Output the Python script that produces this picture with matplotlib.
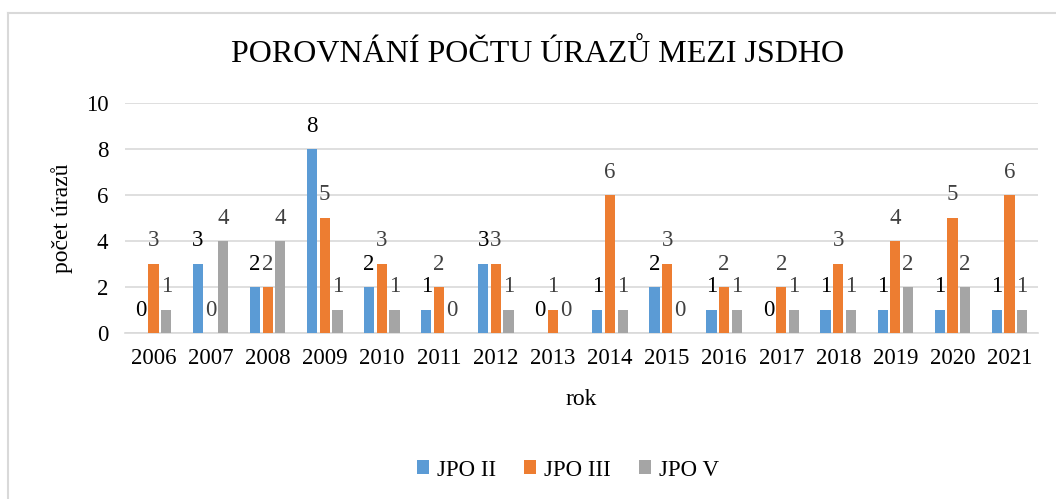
import matplotlib
matplotlib.use("Agg")
import matplotlib.pyplot as plt
from matplotlib.lines import Line2D
import numpy as np

years = ["2006", "2007", "2008", "2009", "2010", "2011", "2012", "2013",
         "2014", "2015", "2016", "2017", "2018", "2019", "2020", "2021"]
jpo_ii = [0, 3, 2, 8, 2, 1, 3, 0, 1, 2, 1, 0, 1, 1, 1, 1]
jpo_iii = [3, 0, 2, 5, 3, 2, 3, 1, 6, 3, 2, 2, 3, 4, 5, 6]
jpo_v = [1, 4, 4, 1, 1, 0, 1, 0, 1, 0, 1, 1, 1, 2, 2, 1]
series_names = ["JPO II", "JPO III", "JPO V"]
colors = ["#5B9BD5", "#ED7D31", "#A5A5A5"]
label_colors = ["#000000", "#404040", "#404040"]

plt.rcParams['font.family'] = ['Liberation Serif', 'DejaVu Serif']

W, H = 1056, 499
fig = plt.figure(figsize=(W / 100, H / 100), dpi=100)
ax = fig.add_axes([125 / W, 1 - 333 / H, (1038 - 125) / W, (333 - 103) / H])

x = np.arange(len(years))
step = 0.222
width = 0.18
for i, (vals, name) in enumerate(zip([jpo_ii, jpo_iii, jpo_v], series_names)):
    pos = x + (i - 1) * step
    ax.bar(pos, vals, width=width, color=colors[i], label=name, zorder=3)
    for p, v in zip(pos, vals):
        ax.annotate(str(v), (p, v), xytext=(0, 9), textcoords="offset points",
                    ha="center", va="bottom", fontsize=16.5, color=label_colors[i])

ax.set_xlim(-0.5, len(years) - 0.5)
ax.set_ylim(0, 10)
ax.set_yticks(range(0, 11, 2))
ax.set_xticks(x)
ax.set_xticklabels(years)
ax.tick_params(axis='both', length=0, labelsize=16.5, colors="#000000")
ax.tick_params(axis='y', pad=12)
ax.tick_params(axis='x', pad=11)
ax.grid(axis='y', color="#D9D9D9", linewidth=1.2, zorder=0)
for s in ["top", "right", "left"]:
    ax.spines[s].set_visible(False)
ax.spines["bottom"].set_color("#D9D9D9")
ax.spines["bottom"].set_linewidth(1.2)

ax.set_ylabel("počet úrazů", fontsize=17, labelpad=9)
ax.set_xlabel("rok", fontsize=17, labelpad=14)

fig.text(538 / W, 1 - 54 / H, "POROVNÁNÍ POČTU ÚRAZŮ MEZI JSDHO",
         ha="center", va="center", fontsize=23)

handles = [plt.Rectangle((0, 0), 1, 1, facecolor=c, edgecolor="none") for c in colors]
fig.legend(handles, series_names, loc="center", bbox_to_anchor=(568 / W, 1 - 470 / H),
           ncol=3, frameon=False, fontsize=16.5, handlelength=0.55, handleheight=0.55,
           handletextpad=0.35, columnspacing=1.2)

# outer chart border (left and top visible)
fig.add_artist(Line2D([8 / W, 8 / W], [0, 1 - 13 / H], transform=fig.transFigure,
                      color="#D9D9D9", linewidth=1.5))
fig.add_artist(Line2D([8 / W, 1], [1 - 13 / H, 1 - 13 / H], transform=fig.transFigure,
                      color="#D9D9D9", linewidth=1.5))

fig.savefig("out.png", dpi=100)
